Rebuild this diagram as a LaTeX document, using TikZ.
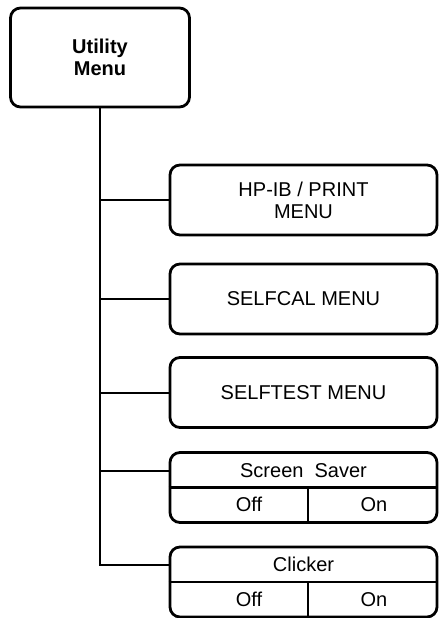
\documentclass[tikz,border=0pt]{standalone}
\usepackage{fontspec}
\setmainfont{Liberation Sans}
\usepackage{tikz}
\usetikzlibrary{calc,positioning}

\begin{document}
\begin{tikzpicture}[
        x=0.5pt, y=-0.5pt,
        menubox/.style={draw=black, line width=1.4pt, rounded corners=5pt,
          minimum width=133.5pt, minimum height=35pt, align=center,
          font=\fontsize{10}{11}\selectfont, inner sep=0pt},
        topbox/.style={menubox, minimum width=89.5pt, minimum height=49.5pt,
          font=\fontsize{10}{11}\selectfont\bfseries},
        cell/.style={inner sep=0pt, text height=1.6ex, text depth=0.3ex,
          font=\fontsize{10}{11}\selectfont},
        rule/.style={line width=1.1pt},
        link/.style={line width=1pt},
      ]
      \useasboundingbox (0,0) rectangle (439,618);
      \node[topbox] (utility) at (100,57.5) {Utility\\Menu};
      \node[menubox] (hpib) at (303.5,200) {HP-IB / PRINT\\MENU};
      \node[menubox] (selfcal) at (303.5,299) {SELFCAL MENU};
      \node[menubox] (selftest) at (303.5,392.5) {SELFTEST MENU};
      % two-row boxes
      \node[menubox] (saver) at (303.5,487.5) {};
      \node[cell, minimum width=133.5pt, minimum height=17.5pt] (savertitle)
        at (303.5,470.5) {Screen\ \ Saver};
      \node[cell] (saveroff) at (249,505) {Off};
      \node[cell] (saveron) at (374,505) {On};
      \coordinate (savermid) at (308,487.5);
      \draw[rule] (saver.west) -- (saver.east);
      \draw[rule] (savermid) -- (savermid |- saver.south);
      \node[menubox] (clicker) at (303.5,582) {};
      \node[cell, minimum width=133.5pt, minimum height=17.5pt] (clickertitle)
        at (303.5,565) {Clicker};
      \node[cell] (clickeroff) at (249,599.5) {Off};
      \node[cell] (clickeron) at (374,599.5) {On};
      \coordinate (clickermid) at (308,582);
      \draw[rule] (clicker.west) -- (clicker.east);
      \draw[rule] (clickermid) -- (clickermid |- clicker.south);
      % tree
      \draw[link] (utility.south) -- (utility.south |- clickertitle.west)
        -- (clickertitle.west);
      \foreach \item in {hpib,selfcal,selftest,savertitle}
        \draw[link] (utility.south |- \item.west) -- (\item.west);
    \end{tikzpicture}
\end{document}
